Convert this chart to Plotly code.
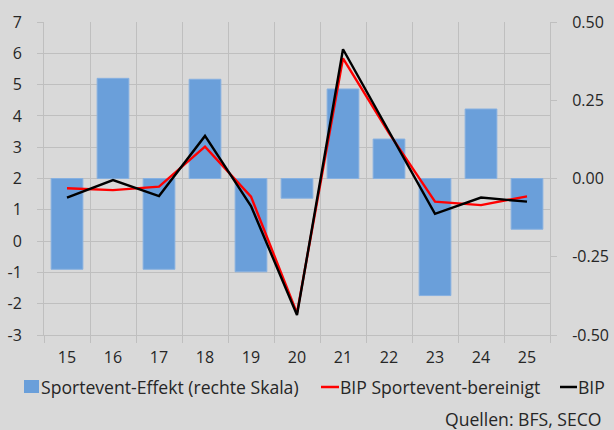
import plotly.graph_objects as go

categories = ["15", "16", "17", "18", "19", "20", "21", "22", "23", "24", "25"]
sport_effect = [-0.29, 0.32, -0.29, 0.317, -0.298, -0.063, 0.286, 0.126, -0.374, 0.222, -0.162]
bip_bereinigt = [1.69, 1.63, 1.74, 3.02, 1.42, -2.3, 5.84, 3.45, 1.26, 1.15, 1.43]
bip = [1.39, 1.95, 1.44, 3.36, 1.12, -2.36, 6.13, 3.5, 0.87, 1.39, 1.26]

left_ticks = list(range(-3, 8))
right_ticks = [-0.5, -0.25, 0.0, 0.25, 0.5]

names = ["Sportevent-Effekt (rechte Skala)", "BIP Sportevent-bereinigt", "BIP"]
colors = ["#6a9fda", "#ff0000", "#000000"]
source_text = "Quellen: BFS, SECO"

BG = "#d9d9d9"
GRID = "#bfbfbf"
TXT = "#262626"
FONT = "Open Sans"

W, H = 614, 430
L, R, T, B = 44, 64, 22, 95
PW, PH = W - L - R, H - T - B


def fx(px):
    return (px - L) / PW


def fy(py):
    return (H - B - py) / PH


fig = go.Figure()
fig.add_trace(go.Bar(
    x=categories, y=sport_effect, name=names[0],
    marker=dict(color=colors[0], line=dict(color="#86b0e0", width=1)),
    width=0.69, yaxis="y",
))
fig.add_trace(go.Scatter(
    x=categories, y=bip_bereinigt, name=names[1],
    mode="lines", line=dict(color=colors[1], width=2.4), yaxis="y2",
))
fig.add_trace(go.Scatter(
    x=categories, y=bip, name=names[2],
    mode="lines", line=dict(color=colors[2], width=2.4), yaxis="y2",
))

LEG_Y = 387
LF = 17.6
shapes = [
    dict(type="rect", xref="paper", yref="paper", x0=fx(24), x1=fx(39), y0=fy(393), y1=fy(380),
         fillcolor=colors[0], line=dict(width=0)),
    dict(type="line", xref="paper", yref="paper", x0=fx(321), x1=fx(339), y0=fy(LEG_Y), y1=fy(LEG_Y),
         line=dict(color=colors[1], width=2.5)),
    dict(type="line", xref="paper", yref="paper", x0=fx(560), x1=fx(577), y0=fy(LEG_Y), y1=fy(LEG_Y),
         line=dict(color=colors[2], width=2.5)),
]
annotations = []
for txt, px in zip(names, [39, 338, 576]):
    annotations.append(dict(
        text=txt, xref="paper", yref="paper", x=fx(px), y=fy(LEG_Y), xanchor="left", yanchor="middle",
        showarrow=False, font=dict(size=LF, color=TXT, family=FONT),
    ))
annotations.append(dict(
    text=source_text, xref="paper", yref="paper", x=fx(604), y=fy(419),
    xanchor="right", yanchor="middle", showarrow=False, font=dict(size=LF, color=TXT, family=FONT),
))

fig.update_layout(
    width=W, height=H,
    paper_bgcolor=BG, plot_bgcolor=BG,
    margin=dict(l=L, r=R, t=T, b=B, autoexpand=False),
    font=dict(family=FONT, size=16, color=TXT),
    showlegend=False,
    xaxis=dict(
        type="category", tickson="boundaries", showgrid=True, gridcolor=GRID, gridwidth=1,
        ticks="outside", ticklen=7, tickcolor=GRID, showline=True, linecolor=GRID,
        range=[-0.5, 10.5], zeroline=False, ticklabelstandoff=8, automargin=False,
    ),
    yaxis=dict(
        side="right", range=[-0.5, 0.5], tickvals=right_ticks,
        ticktext=[f"{v:.2f}" for v in right_ticks],
        showgrid=False, zeroline=False, ticks="outside", ticklen=6, tickcolor=GRID,
        showline=True, linecolor=GRID, ticklabelstandoff=12, automargin=False,
        minor=dict(dtick=0.1, tick0=0, showgrid=True, gridcolor=GRID, gridwidth=1, ticks=""),
    ),
    yaxis2=dict(
        overlaying="y", side="left", range=[-3, 7], tickvals=left_ticks,
        ticktext=[str(v) for v in left_ticks],
        showgrid=False, zeroline=False, ticks="outside", ticklen=6, tickcolor=GRID,
        showline=True, linecolor=GRID, ticklabelstandoff=12, automargin=False,
    ),
    shapes=shapes,
    annotations=annotations,
)

fig.write_html(
    "out.html",
    config={"displayModeBar": False},
    post_script="document.body.style.margin='0';document.body.style.background='#d9d9d9';",
)
